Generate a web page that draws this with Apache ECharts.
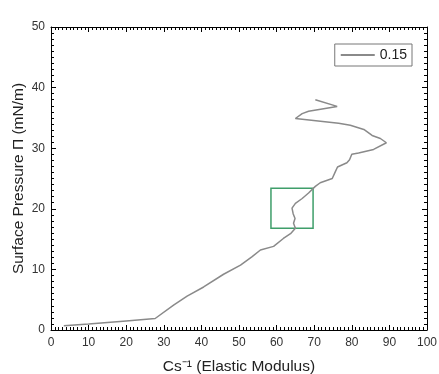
<!DOCTYPE html>
<html>
<head>
<meta charset="utf-8">
<script src="https://cdn.jsdelivr.net/npm/echarts@6/dist/echarts.min.js"></script>
<style>
  html, body { margin: 0; padding: 0; background: #fff; }
  #chart { width: 439px; height: 374px; }
</style>
</head>
<body>
<div id="chart"></div>
<script>
// elastic modulus (x) vs surface pressure (y)
var modulus = [3.4, 10, 20, 27.7, 32.6, 36.2, 40.6, 45.9, 50.4, 53.5, 55.7, 59.2, 61.8, 63.7, 65.0,
  64.5, 64.9, 64.4, 64.1, 65.0, 66.8, 68.5, 70.3, 71.6, 74.8, 75.6, 76.2, 78.7, 79.4, 80.0,
  81.8, 85.8, 89.2, 87.6, 85.4, 83.2, 79.6, 76.5, 65.0, 66.8, 68.5, 76.1, 70.3];
var pressure = [0.7, 1.0, 1.5, 1.9, 4.1, 5.6, 7.1, 9.2, 10.7, 12.1, 13.2, 13.8, 15.1, 15.9, 16.8,
  17.6, 18.4, 19.2, 20.1, 20.9, 21.7, 22.6, 23.7, 24.3, 25.0, 26.1, 26.9, 27.6, 28.1, 29.0,
  29.2, 29.8, 30.9, 31.6, 32.1, 33.1, 33.8, 34.1, 34.9, 35.7, 36.1, 36.9, 38.0];
var seriesName = '0.15';
// highlighted region [x0, y0] - [x1, y1]
var boxFrom = [58.5, 16.8];
var boxTo = [69.7, 23.4];

var points = modulus.map(function (x, i) { return [x, pressure[i]]; });

var chart = echarts.init(document.getElementById('chart'));
var font = 'Arial, Liberation Sans';

function frameAxis(extra) {
  var base = {
    type: 'value',
    axisLine: { show: true, onZero: false, lineStyle: { color: '#000', width: 1 } },
    axisTick: { show: true, inside: true, length: 5, lineStyle: { color: '#000' } },
    minorTick: { show: true, splitNumber: 10, length: 3, lineStyle: { color: '#000' } },
    splitLine: { show: false },
    axisLabel: { show: false }
  };
  return Object.assign(base, extra);
}

chart.setOption({
  animation: false,
  grid: { left: 51, right: 12, top: 27, bottom: 44, containLabel: false, outerBoundsMode: 'none' },
  legend: {
    right: 27, top: 44,
    orient: 'vertical',
    padding: [4, 5, 4, 6],
    borderColor: '#777', borderWidth: 1, borderRadius: 0,
    itemWidth: 34, itemHeight: 2, itemGap: 4,
    icon: 'rect',
    textStyle: { fontFamily: font, fontSize: 14, color: '#222' },
    data: [seriesName]
  },
  xAxis: [
    frameAxis({
      min: 0, max: 100, interval: 10,
      name: 'Cs\u207B\u00B9 (Elastic Modulus)',
      nameLocation: 'middle', nameGap: 29, nameMoveOverlap: false,
      nameTextStyle: { fontFamily: font, fontSize: 15.5, color: '#222' },
      axisLabel: { show: true, fontFamily: font, fontSize: 12, color: '#333', margin: 7 }
    }),
    frameAxis({ min: 0, max: 100, interval: 10, position: 'top' })
  ],
  yAxis: [
    frameAxis({
      min: 0, max: 50, interval: 10,
      name: 'Surface Pressure \u03A0 (mN/m)',
      nameLocation: 'middle', nameGap: 24, nameMoveOverlap: false,
      nameTextStyle: { fontFamily: font, fontSize: 15.5, color: '#222' },
      axisLabel: { show: true, fontFamily: font, fontSize: 12, color: '#333', margin: 6 }
    }),
    frameAxis({ min: 0, max: 50, interval: 10, position: 'right' })
  ],
  series: [{
    name: seriesName,
    type: 'line',
    xAxisIndex: 0, yAxisIndex: 0,
    data: points,
    showSymbol: false,
    symbol: 'none',
    lineStyle: { color: '#8a8a8a', width: 1.5 },
    itemStyle: { color: '#8a8a8a' },
    markArea: {
      silent: true,
      itemStyle: { color: 'rgba(0,0,0,0)', borderColor: '#3f9e6a', borderWidth: 1.5 },
      data: [[{ coord: boxFrom }, { coord: boxTo }]]
    }
  }]
});
</script>
</body>
</html>
